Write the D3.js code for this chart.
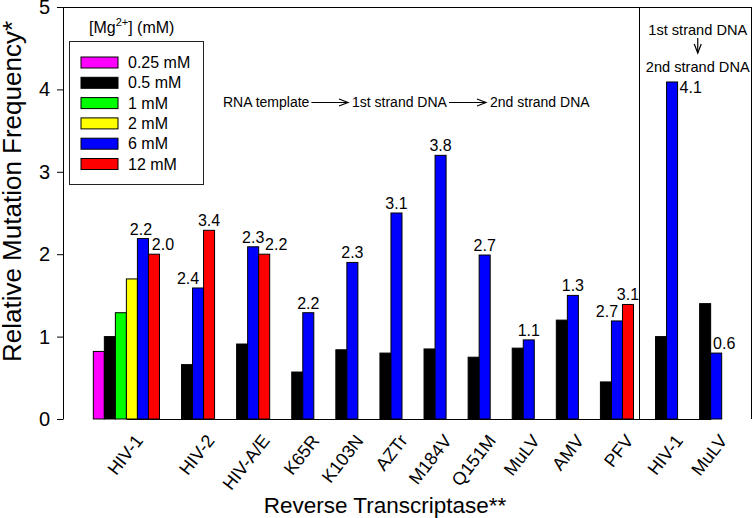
<!DOCTYPE html>
<html lang="en">
<head>
	<meta charset="UTF-8">
	<title>Relative Mutation Frequency</title>
	<script src="https://cdn.jsdelivr.net/npm/d3@7"></script>
	<style>
		body { margin: 0; background: #fff; }
		svg text { font-family: "Liberation Sans", Arial, sans-serif; fill: #000; }
		.bar { stroke: #000; stroke-width: 1px; }
		.frame { stroke: #000; stroke-width: 1px; fill: none; shape-rendering: crispEdges; }
		.axis path, .axis line { stroke: #000; }
		.note line, .note path { stroke: #000; stroke-width: 1.2px; fill: none; }
	</style>
</head>
<body>
	<div class="wrap"></div>
	<script>
	  // reverse transcriptases on the x axis
	  var categories = ["HIV-1", "HIV-2", "HIV-A/E", "K65R", "K103N", "AZTr", "M184V",
	                    "Q151M", "MuLV", "AMV", "PFV", "HIV-1", "MuLV"];

	  // relative mutation frequency for each [Mg2+] (null = not measured)
	  var mg025 = [0.82, null, null, null, null, null, null, null, null, null, null, null, null];
	  var mg05  = [1.00, 0.66, 0.91, 0.57, 0.84, 0.80, 0.85, 0.75, 0.86, 1.20, 0.45, 1.00, 1.40];
	  var mg1   = [1.29, null, null, null, null, null, null, null, null, null, null, null, null];
	  var mg2   = [1.70, null, null, null, null, null, null, null, null, null, null, null, null];
	  var mg6   = [2.19, 1.59, 2.09, 1.29, 1.90, 2.50, 3.20, 1.99, 0.96, 1.50, 1.19, 4.09, 0.80];
	  var mg12  = [2.00, 2.29, 2.00, null, null, null, null, null, null, null, 1.39, null, null];

	  var seriesNames = ["0.25 mM", "0.5 mM", "1 mM", "2 mM", "6 mM", "12 mM"];
	  var seriesColors = ["#ff00ff", "#000000", "#00ff00", "#ffff00", "#0000ff", "#ff0000"];

	  // numbers written over the bars: category, series, text
	  var labelCat    = [0, 0, 1, 1, 2, 2, 3, 4, 5, 6, 7, 8, 9, 10, 10, 11, 12];
	  var labelSeries = [4, 5, 4, 5, 4, 5, 4, 4, 4, 4, 4, 4, 4, 4, 5, 4, 4];
	  var labelText   = ["2.2", "2.0", "2.4", "3.4", "2.3", "2.2", "2.2", "2.3", "3.1",
	                     "3.8", "2.7", "1.1", "1.3", "2.7", "3.1", "4.1", "0.6"];

	  var yTicks = [0, 1, 2, 3, 4, 5];

	  var margin = {top: 7, right: 1, bottom: 99, left: 63},
	      width = 753 - margin.left - margin.right,
	      height = 518 - margin.top - margin.bottom;

	  var svg = d3.select(".wrap").append("svg")
	      .attr("width", 753)
	      .attr("height", 518)
	      .append("g")
	      .attr("transform", "translate(" + margin.left + "," + margin.top + ")");

	  // each group packs its bars side by side, two bar widths between groups
	  var series = [mg025, mg05, mg1, mg2, mg6, mg12];
	  var edgePad = 2.75, groupGap = 2;
	  var groups = categories.map(function(c, i) {
	    var present = [];
	    series.forEach(function(s, k) { if (s[i] != null) present.push(k); });
	    return {index: i, name: c, series: present};
	  });
	  var cursor = edgePad;
	  groups.forEach(function(g) { g.start = cursor; cursor += g.series.length + groupGap; });
	  var totalSlots = cursor - groupGap + edgePad;

	  var x = d3.scaleLinear().domain([0, totalSlots]).range([0, width]);
	  var y = d3.scaleLinear().domain([0, 5]).range([height, 0]);
	  var xc = d3.scaleOrdinal()
	      .domain(groups.map(function(g) { return g.index; }))
	      .range(groups.map(function(g) { return x(g.start + g.series.length / 2); }));

	  var bars = [];
	  groups.forEach(function(g) {
	    g.series.forEach(function(k, j) {
	      bars.push({cat: g.index, s: k, slot: g.start + j, value: series[k][g.index]});
	    });
	  });

	  // frame: top, right and the divider before the 2nd strand panel
	  svg.append("line").attr("class", "frame")
	      .attr("x1", 0).attr("x2", width).attr("y1", 0.5).attr("y2", 0.5);
	  svg.append("line").attr("class", "frame")
	      .attr("x1", width - 0.5).attr("x2", width - 0.5).attr("y1", 0).attr("y2", height);
	  var divX = Math.round(x(groups[10].start + groups[10].series.length + 0.5)) + 0.5;
	  svg.append("line").attr("class", "frame")
	      .attr("x1", divX).attr("x2", divX).attr("y1", 0).attr("y2", height);

	  // bars
	  svg.selectAll("rect.bar").data(bars).enter().append("rect")
	      .attr("class", "bar")
	      .attr("x", function(d) { return x(d.slot); })
	      .attr("width", x(1) - x(0))
	      .attr("y", function(d) { return y(d.value); })
	      .attr("height", function(d) { return height - y(d.value); })
	      .attr("fill", function(d) { return seriesColors[d.s]; });

	  // value labels
	  var shiftX = {0: -2, 1: 9, 2: -10, 5: 12, 13: -10, 16: 8};
	  labelText.forEach(function(t, i) {
	    var b = bars.filter(function(d) { return d.cat === labelCat[i] && d.s === labelSeries[i]; })[0];
	    var bx = x(b.slot), bw = x(1) - x(0), by = y(b.value);
	    var txt = svg.append("text")
	        .attr("font-size", "16px")
	        .text(t);
	    if (i === 15) {
	      txt.attr("x", bx + bw + 2).attr("y", by + 11).attr("text-anchor", "start");
	    } else {
	      txt.attr("x", bx + bw / 2 + (shiftX[i] || 0)).attr("y", by - 4).attr("text-anchor", "middle");
	    }
	  });

	  // y axis
	  var yAxis = svg.append("g")
	      .attr("class", "axis")
	      .call(d3.axisLeft(y).tickValues(yTicks).tickFormat(d3.format("d"))
	        .tickSize(6).tickSizeOuter(0).tickPadding(7));
	  yAxis.selectAll("text").attr("font-size", "20px").attr("font-family", null);

	  // x axis (no tick marks, rotated names)
	  var xAxis = svg.append("g")
	      .attr("class", "axis")
	      .attr("transform", "translate(0," + height + ")")
	      .call(d3.axisBottom(xc).tickSize(0).tickFormat(function(i) { return categories[i]; }));
	  xAxis.selectAll("text")
	      .attr("font-size", "18px")
	      .attr("font-family", null)
	      .attr("text-anchor", "end")
	      .attr("x", 0).attr("y", 0).attr("dy", "0.35em")
	      .attr("transform", "translate(12,18) rotate(-52)");

	  // axis titles
	  svg.append("text")
	      .attr("transform", "translate(" + (21 - margin.left) + ",184.5) rotate(-90)")
	      .attr("text-anchor", "middle")
	      .attr("font-size", "26px")
	      .text("Relative Mutation Frequency*");
	  svg.append("text")
	      .attr("x", 322).attr("y", 506)
	      .attr("text-anchor", "middle")
	      .attr("font-size", "22.5px")
	      .text("Reverse Transcriptase**");

	  // legend
	  var legend = svg.append("g").attr("transform", "translate(6,0)");
	  var lt = legend.append("text").attr("x", 20).attr("y", 26).attr("font-size", "16px");
	  lt.append("tspan").text("[Mg");
	  lt.append("tspan").attr("font-size", "11px").attr("dy", "-7").text("2+");
	  lt.append("tspan").attr("dy", "7").text("] (mM)");
	  legend.append("rect")
	      .attr("x", 0.5).attr("y", 34.5).attr("width", 134).attr("height", 143)
	      .attr("fill", "none").attr("stroke", "#222");
	  var rows = legend.selectAll("g.row").data(seriesNames).enter().append("g")
	      .attr("class", "row")
	      .attr("transform", function(d, i) { return "translate(12," + (50 + i * 20.3) + ")"; });
	  rows.append("rect")
	      .attr("width", 37).attr("height", 11)
	      .attr("fill", function(d, i) { return seriesColors[i]; })
	      .attr("stroke", "#000");
	  rows.append("text")
	      .attr("x", 47).attr("y", 11)
	      .attr("font-size", "16px")
	      .text(function(d) { return d; });

	  // pathway notes
	  var note = svg.append("g").attr("class", "note");
	  function arrowRight(x1, x2, yy) {
	    note.append("line").attr("x1", x1).attr("x2", x2).attr("y1", yy).attr("y2", yy);
	    note.append("path").attr("d", "M" + (x2 - 9) + "," + (yy - 3.5) + "L" + x2 + "," + yy + "L" + (x2 - 9) + "," + (yy + 3.5));
	  }
	  var steps = ["RNA template", "1st strand DNA", "2nd strand DNA"];
	  var stepX = [160, 289, 427], ny = 100;
	  steps.forEach(function(t, i) {
	    var tx = note.append("text").attr("x", stepX[i]).attr("y", ny).attr("font-size", "14px").text(t);
	    if (i < steps.length - 1) {
	      var end = stepX[i] + tx.node().getComputedTextLength();
	      arrowRight(end + 2, stepX[i + 1] - 4, ny - 4.5);
	    }
	  });

	  var rx = (divX + width) / 2 + 2;
	  note.append("text").attr("x", rx).attr("y", 28).attr("text-anchor", "middle")
	      .attr("font-size", "14.6px").text("1st strand DNA");
	  note.append("line").attr("x1", rx).attr("x2", rx).attr("y1", 31).attr("y2", 46);
	  note.append("path").attr("d", "M" + (rx - 3.5) + ",37L" + rx + ",46L" + (rx + 3.5) + ",37");
	  note.append("text").attr("x", rx).attr("y", 65).attr("text-anchor", "middle")
	      .attr("font-size", "14.6px").text("2nd strand DNA");
	</script>
</body>
</html>
